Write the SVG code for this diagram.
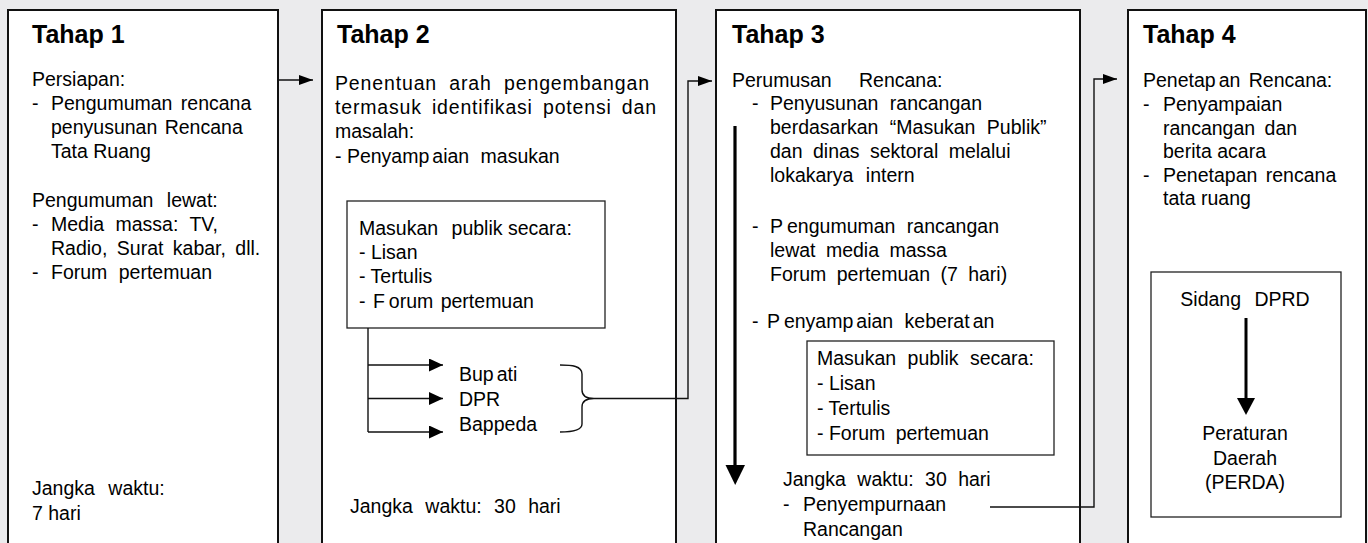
<svg xmlns="http://www.w3.org/2000/svg" width="1368" height="543" viewBox="0 0 1368 543">
<style>
.bg{fill:#ebebed}
.box{fill:#fff;stroke:#111;stroke-width:2}
.inner{fill:#fff;stroke:#222;stroke-width:1.3}
.t{font-family:"Liberation Sans",Arial,sans-serif;font-weight:bold;font-size:25px;fill:#000}
.b{font-family:"Liberation Sans",Arial,sans-serif;font-size:19.5px;fill:#000}
.c{fill:none;stroke:#111;stroke-width:1.4}
.thick{fill:none;stroke:#000;stroke-width:3.2}
.head{fill:#000}
</style>
<defs>
<marker id="ah" viewBox="0 0 14 10" markerWidth="14" markerHeight="10" markerUnits="userSpaceOnUse" refX="14" refY="5" orient="auto"><path d="M0,0 L14,5 L0,10 z" fill="#000"/></marker>
<marker id="ah2" viewBox="0 0 14 13" markerWidth="14" markerHeight="13" markerUnits="userSpaceOnUse" refX="14" refY="6.5" orient="auto"><path d="M0,0 L14,6.5 L0,13 z" fill="#000"/></marker>
</defs>
<rect class="bg" x="0" y="0" width="1368" height="543"/>

<g id="tahap1">
<rect class="box" x="8" y="10" width="270" height="560"/>
<text class="t" x="32" y="43">Tahap 1</text>
<text class="b" x="32" y="86">Persiapan:</text>
<text class="b" x="32" y="110">-</text><text class="b" x="51" y="110" word-spacing="3">Pengumuman rencana</text>
<text class="b" x="51" y="134" word-spacing="2">penyusunan Rencana</text>
<text class="b" x="51" y="158">Tata Ruang</text>
<text class="b" x="32" y="207" word-spacing="8">Pengumuman lewat:</text>
<text class="b" x="32" y="231">-</text><text class="b" x="51" y="231" word-spacing="6">Media massa: TV,</text>
<text class="b" x="51" y="255" word-spacing="4">Radio, Surat kabar, dll.</text>
<text class="b" x="32" y="279">-</text><text class="b" x="51" y="279" word-spacing="6">Forum pertemuan</text>
<text class="b" x="32" y="495" word-spacing="8">Jangka waktu:</text>
<text class="b" x="32" y="520">7 hari</text>
</g>

<g id="tahap2">
<rect class="box" x="322" y="10" width="354" height="560"/>
<text class="t" x="337" y="43">Tahap 2</text>
<text class="b" x="335" y="90" word-spacing="6" textLength="314" lengthAdjust="spacing">Penentuan arah pengembangan</text>
<text class="b" x="335" y="114" word-spacing="4" textLength="321" lengthAdjust="spacing">termasuk identifikasi potensi dan</text>
<text class="b" x="335" y="138">masalah:</text>
<text class="b" x="335" y="163">- Penyamp<tspan dx="3">aian</tspan> <tspan dx="6">masukan</tspan></text>
</g>

<g id="masukan2">
<rect class="inner" x="347" y="201" width="258" height="127"/>
<text class="b" x="359" y="235">Masukan <tspan dx="8">publik</tspan> secara:</text>
<text class="b" x="359" y="259">- Lisan</text>
<text class="b" x="359" y="283">- Tertulis</text>
<text class="b" x="359" y="308" word-spacing="2">- F<tspan dx="4">orum</tspan> pertemuan</text>
</g>

<g id="penerima">
<text class="b" x="459" y="381">Bup<tspan dx="3">ati</tspan></text>
<text class="b" x="459" y="405.5">DPR</text>
<text class="b" x="459" y="430.5">Bappeda</text>
</g>

<g id="jangka2">
<text class="b" x="350" y="513" word-spacing="7">Jangka waktu: 30 hari</text>
</g>

<g id="tahap3">
<rect class="box" x="716" y="10" width="364" height="560"/>
<text class="t" x="732" y="43">Tahap 3</text>
<text class="b" x="732" y="87">Perumusan <tspan x="859">Rencana:</tspan></text>
<text class="b" x="752" y="110">-</text><text class="b" x="770" y="110" word-spacing="6">Penyusunan rancangan</text>
<text class="b" x="770" y="134" word-spacing="6">berdasarkan “Masukan Publik”</text>
<text class="b" x="770" y="158" word-spacing="5">dan dinas sektoral melalui</text>
<text class="b" x="770" y="182" word-spacing="7">lokakarya intern</text>
<text class="b" x="752" y="233">-</text><text class="b" x="770" y="233" word-spacing="6">P<tspan dx="4">engumuman</tspan> rancangan</text>
<text class="b" x="770" y="257" word-spacing="5">lewat media massa</text>
<text class="b" x="770" y="281" word-spacing="5">Forum pertemuan (7 hari)</text>
<text class="b" x="752" y="328" word-spacing="3">- P<tspan dx="4">enyamp</tspan><tspan dx="3">aian</tspan> <tspan dx="3">keberat</tspan><tspan dx="3">an</tspan></text>
<text class="b" x="783" y="486" word-spacing="6">Jangka waktu: 30 hari</text>
<text class="b" x="783" y="511">-</text><text class="b" x="803" y="511">Penyempurnaan</text>
<text class="b" x="803" y="536">Rancangan</text>
</g>

<g id="masukan3">
<rect class="inner" x="807" y="341" width="247" height="114"/>
<text class="b" x="817" y="365" word-spacing="6">Masukan publik secara:</text>
<text class="b" x="817" y="390">- Lisan</text>
<text class="b" x="817" y="415">- Tertulis</text>
<text class="b" x="817" y="440">- Forum <tspan dx="5">pertemuan</tspan></text>
</g>

<g id="tahap4">
<rect class="box" x="1128" y="10" width="238" height="560"/>
<text class="t" x="1143" y="43">Tahap 4</text>
<text class="b" x="1143" y="87" word-spacing="3">Penetap<tspan dx="3">an</tspan> Rencana:</text>
<text class="b" x="1143" y="111">-</text><text class="b" x="1163" y="111">Penyampaian</text>
<text class="b" x="1163" y="135" word-spacing="4">rancangan dan</text>
<text class="b" x="1163" y="158">berita acara</text>
<text class="b" x="1143" y="182">-</text><text class="b" x="1163" y="182" word-spacing="3">Penetapan rencana</text>
<text class="b" x="1163" y="205">tata ruang</text>
</g>

<g id="sidang">
<rect class="inner" x="1151" y="272" width="190" height="245"/>
<text class="b" x="1245" y="306" text-anchor="middle" word-spacing="8">Sidang DPRD</text>
<text class="b" x="1245" y="440" text-anchor="middle">Peraturan</text>
<text class="b" x="1245" y="465" text-anchor="middle">Daerah</text>
<text class="b" x="1245" y="489" text-anchor="middle">(PERDA)</text>
</g>

<g id="connectors">
<path class="c" d="M279,80 H313" marker-end="url(#ah)"/>
<path class="c" d="M368,328 V432"/>
<path class="c" d="M368,365 H443" marker-end="url(#ah2)"/>
<path class="c" d="M368,398.5 H443" marker-end="url(#ah2)"/>
<path class="c" d="M368,432 H443" marker-end="url(#ah2)"/>
<path class="c" d="M560,365 C572,365 582,366 582,374 L582,390 C582,396 586,398.5 594,398.5 C586,398.5 582,401 582,407 L582,424 C582,430 572,432 560,432"/>
<path class="c" d="M594,398.5 H688 V81 H712" marker-end="url(#ah)"/>
<path class="c" d="M990,507 H1094 V79 H1117" marker-end="url(#ah)"/>
<path class="thick" d="M735,126 V467"/>
<path class="head" d="M725.5,465 L745,465 L735.2,485 z"/>
<path class="thick" d="M1246,318 V400" style="stroke-width:3"/>
<path class="head" d="M1237,398 L1255,398 L1246,415 z"/>
</g>
</svg>
